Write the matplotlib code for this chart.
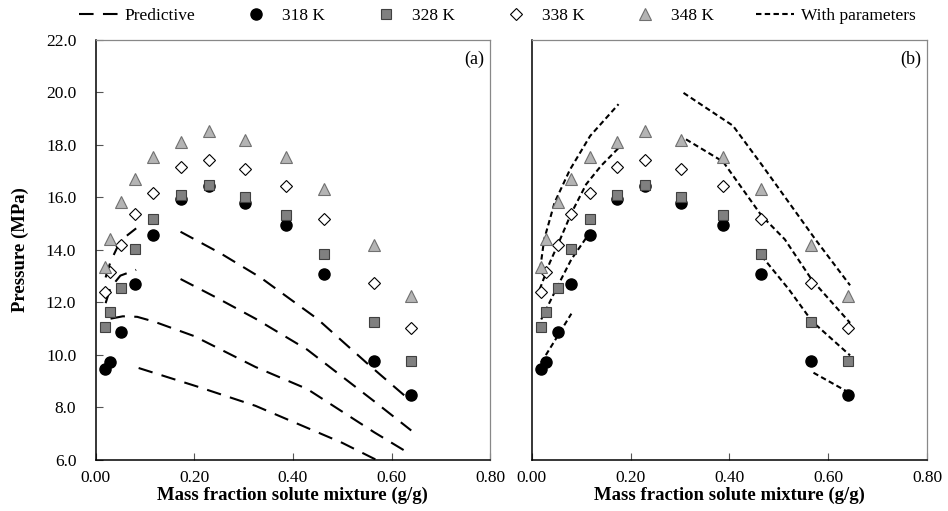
import numpy as np
import matplotlib.pyplot as plt

plt.rcParams["font.family"] = ["Liberation Serif", "DejaVu Serif"]

# experimental data (mass fraction of solute mixture, pressure MPa)
x_exp = [0.018, 0.028, 0.052, 0.080, 0.117, 0.173, 0.229, 0.302, 0.386, 0.464, 0.565, 0.640]
p_318 = [9.46, 9.74, 10.88, 12.70, 14.55, 15.92, 16.45, 15.79, 14.94, 13.07, 9.76, 8.49]
p_328 = [11.08, 11.62, 12.54, 14.04, 15.16, 16.10, 16.48, 16.02, 15.31, 13.86, 11.24, 9.75]
p_338 = [12.39, 13.17, 14.20, 15.38, 16.18, 17.15, 17.43, 17.08, 16.42, 15.18, 12.73, 11.01]
p_348 = [13.35, 14.40, 15.84, 16.71, 17.53, 18.11, 18.52, 18.20, 17.54, 16.31, 14.20, 12.23]

# predictive model curves, panel (a)
pred1_x = [0.087, 0.205, 0.324, 0.429, 0.50, 0.58]
pred1_y = [9.50, 8.80, 8.06, 7.22, 6.65, 5.90]
pred2_x = [0.030, 0.055, 0.084, 0.118, 0.199, 0.324, 0.429, 0.565, 0.640]
pred2_y = [11.38, 11.47, 11.45, 11.27, 10.72, 9.54, 8.70, 7.05, 6.20]
pred3a_x = [0.020, 0.030, 0.050, 0.082]
pred3a_y = [11.97, 12.56, 13.02, 13.24]
pred3b_x = [0.172, 0.246, 0.324, 0.429, 0.565, 0.640]
pred3b_y = [12.89, 12.17, 11.38, 10.20, 8.23, 7.12]
pred4a_x = [0.020, 0.030, 0.050, 0.082]
pred4a_y = [12.95, 13.55, 14.35, 14.82]
pred4b_x = [0.172, 0.253, 0.334, 0.449, 0.551, 0.640]
pred4b_y = [14.69, 13.87, 12.95, 11.38, 9.67, 8.23]

# correlated curves (with parameters), panel (b)
fit_318a_x = [0.019, 0.050, 0.080]
fit_318a_y = [9.71, 10.65, 11.57]
fit_318b_x = [0.570, 0.610, 0.644]
fit_318b_y = [9.32, 8.90, 8.54]
fit_328a_x = [0.019, 0.053, 0.080, 0.116]
fit_328a_y = [11.35, 12.65, 13.64, 14.62]
fit_328b_x = [0.465, 0.520, 0.567, 0.644]
fit_328b_y = [13.77, 12.50, 11.28, 9.98]
fit_338a_x = [0.016, 0.036, 0.055, 0.080, 0.110, 0.140, 0.1755]
fit_338a_y = [12.50, 13.50, 14.30, 15.40, 16.50, 17.20, 17.88]
fit_338b_x = [0.312, 0.387, 0.465, 0.512, 0.567, 0.644]
fit_338b_y = [18.21, 17.36, 15.30, 14.40, 12.85, 11.22]
fit_348a_x = [0.017, 0.025, 0.046, 0.077, 0.118, 0.1755]
fit_348a_y = [13.30, 14.40, 15.80, 17.05, 18.34, 19.55]
fit_348b_x = [0.307, 0.407, 0.465, 0.533, 0.573, 0.644]
fit_348b_y = [19.98, 18.73, 17.25, 15.47, 14.42, 12.65]

fig = plt.figure(figsize=(9.48, 5.11), dpi=100)
ax1 = fig.add_axes([0.101, 0.100, 0.416, 0.822])
ax2 = fig.add_axes([0.561, 0.100, 0.417, 0.822])

long_dash = (0, (7, 4.5))
short_dash = (0, (2.6, 1.6))


def draw_points(ax):
    h1, = ax.plot(x_exp, p_318, "o", ms=8, mfc="black", mec="black", label="318 K", zorder=3)
    h2, = ax.plot(x_exp, p_328, "s", ms=7.5, mfc="#808080", mec="#404040", mew=0.8,
                  label="328 K", zorder=3)
    h3, = ax.plot(x_exp, p_338, "D", ms=6, mfc="white", mec="black", mew=0.8,
                  label="338 K", zorder=3)
    h4, = ax.plot(x_exp, p_348, "^", ms=8.5, mfc="#b4b4b4", mec="#707070", mew=0.8,
                  label="348 K", zorder=3)
    return [h1, h2, h3, h4]


# panel (a)
hp, = ax1.plot(pred1_x, pred1_y, color="black", lw=1.5, ls=long_dash, label="Predictive")
for xs, ys in [(pred2_x, pred2_y), (pred3a_x, pred3a_y), (pred3b_x, pred3b_y),
               (pred4a_x, pred4a_y), (pred4b_x, pred4b_y)]:
    ax1.plot(xs, ys, color="black", lw=1.5, ls=long_dash)
pts = draw_points(ax1)

# panel (b)
hf, = ax2.plot(fit_318a_x, fit_318a_y, color="black", lw=1.5, ls=short_dash,
               label="With parameters")
for xs, ys in [(fit_318b_x, fit_318b_y), (fit_328a_x, fit_328a_y), (fit_328b_x, fit_328b_y),
               (fit_338a_x, fit_338a_y), (fit_338b_x, fit_338b_y),
               (fit_348a_x, fit_348a_y), (fit_348b_x, fit_348b_y)]:
    ax2.plot(xs, ys, color="black", lw=1.5, ls=short_dash)
draw_points(ax2)

for ax, tag in [(ax1, "(a)"), (ax2, "(b)")]:
    ax.set_xlim(0, 0.8)
    ax.set_ylim(6, 22)
    ax.set_xticks(np.arange(0, 0.81, 0.2))
    ax.set_xticklabels(["%.2f" % v for v in np.arange(0, 0.81, 0.2)])
    ax.set_yticks(np.arange(6, 22.1, 2))
    ax.tick_params(direction="in", length=5, labelsize=12.5, color="#555555")
    ax.tick_params(axis="x", pad=7)
    ax.tick_params(axis="y", pad=14)
    ax.set_xlabel("Mass fraction solute mixture (g/g)", fontsize=13.5, fontweight="bold",
                  labelpad=1)
    for s in ["top", "right"]:
        ax.spines[s].set_color("#888888")
        ax.spines[s].set_linewidth(0.9)
    for s in ["left", "bottom"]:
        ax.spines[s].set_linewidth(1.1)
    ax.text(0.985, 0.975, tag, transform=ax.transAxes, ha="right", va="top", fontsize=13)

ax1.set_yticklabels(["%.1f" % v for v in np.arange(6, 22.1, 2)])
ax1.set_ylabel("Pressure (MPa)", fontsize=13.5, fontweight="bold", labelpad=12)
ax2.tick_params(axis="y", left=False, labelleft=False)

fig.legend(handles=[hp] + pts + [hf], loc="center", bbox_to_anchor=(0.525, 0.968),
           ncol=6, frameon=False, fontsize=12.5, handlelength=2.2, handletextpad=0.4,
           columnspacing=2.4, borderaxespad=0)

fig.savefig("out.png", dpi=100)
